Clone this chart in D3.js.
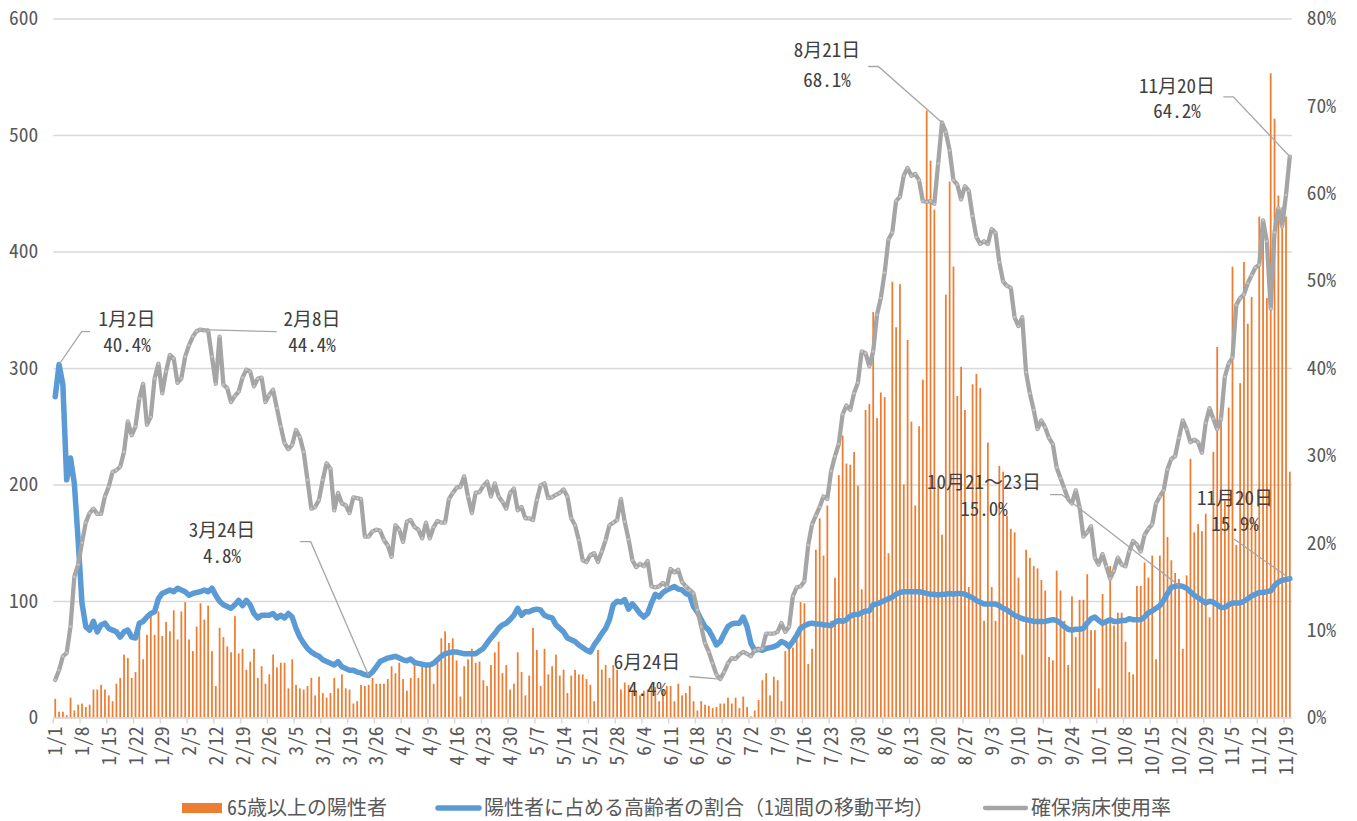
<!DOCTYPE html>
<html><head><meta charset="utf-8">
<script src="https://cdn.jsdelivr.net/npm/d3@7/dist/d3.min.js"></script>
<style>
body{margin:0;background:#fff}
svg{display:block}
</style>
</head><body>
<svg id="chart" width="1357" height="821"></svg>
<script>
// ---- data -------------------------------------------------------------
const startDate = new Date(2021, 0, 1);
const dayCount = 324; // 1/1 .. 11/20

// 65歳以上の陽性者 (人, left axis)
const seniorCases = [
16,5,5,2,17,6,11,12,9,11,24,24,28,24,19,14,29,34,54,51,34,39,77,50,71,91,71,91,70,82,
74,92,67,91,99,67,57,78,98,84,96,57,27,77,69,61,56,87,55,59,41,48,59,34,44,29,37,54,43,47,
47,25,50,28,25,24,27,34,19,35,21,17,21,34,25,37,25,24,12,14,28,27,28,34,29,29,29,33,44,38,
47,33,23,34,47,34,44,44,44,29,48,68,74,64,68,49,18,44,50,59,47,48,32,27,45,56,65,38,45,24,
29,56,39,19,36,77,58,27,59,37,44,54,36,41,21,36,41,37,37,33,28,14,58,41,45,34,45,41,24,30,
28,24,23,19,23,24,27,26,14,24,27,27,14,29,19,21,27,14,6,14,11,10,8,9,12,12,17,12,17,8,
18,9,1,6,15,32,38,19,35,32,14,57,61,60,67,99,98,46,59,144,171,139,182,83,120,208,242,218,217,228,
199,110,264,269,348,257,279,275,141,374,335,372,200,324,254,182,250,290,521,478,436,199,157,363,460,387,276,301,264,112,
286,295,283,83,236,112,83,216,211,173,162,159,120,54,144,137,130,128,118,109,52,49,126,109,83,45,104,69,101,101,
123,75,75,25,106,83,130,79,90,90,65,39,37,113,113,133,120,139,50,139,195,155,135,124,119,59,122,222,159,166,
160,175,86,228,318,266,186,266,387,148,287,391,338,361,168,430,428,360,553,514,448,438,430,211
];

// 陽性者に占める高齢者の割合（1週間の移動平均）(%, right axis)
const seniorShare = [
36.7,40.4,38.1,27.2,29.7,26.8,20.3,13.1,10.4,10.0,11.0,9.8,10.6,10.8,10.2,10.0,9.8,9.2,9.8,10.0,
9.2,9.1,10.8,11.0,11.5,11.9,12.1,13.6,14.2,14.4,14.6,14.4,14.8,14.6,14.4,14.0,14.2,14.3,14.4,14.6,
14.4,14.8,14.0,13.3,12.9,12.7,12.5,12.9,13.4,12.8,13.4,12.9,11.9,11.4,11.7,11.7,11.7,11.9,11.4,11.7,
11.4,11.9,11.5,10.2,9.2,8.5,7.9,7.5,7.2,7.0,6.6,6.4,6.2,6.0,6.4,5.8,5.6,5.4,5.4,5.2,
5.1,4.9,4.8,5.2,5.8,6.4,6.6,6.8,6.9,7.0,6.8,6.6,6.5,6.7,6.3,6.2,6.1,6.0,6.0,6.2,
6.6,7.0,7.3,7.4,7.5,7.5,7.4,7.3,7.3,7.3,7.3,7.6,7.9,8.5,9.1,9.6,10.2,10.6,10.8,11.2,
11.7,12.5,11.7,12.1,12.1,12.3,12.4,12.3,11.7,11.5,11.4,10.6,10.2,9.8,9.1,8.9,8.7,8.3,8.0,7.7,
7.5,8.3,8.9,9.6,10.2,11.2,12.9,13.3,13.2,13.5,12.4,13.0,12.5,11.9,11.5,11.9,13.1,14.1,13.8,14.3,
14.6,14.8,15.0,14.7,14.6,14.2,14.0,12.7,12.1,11.2,10.4,10.0,9.2,8.3,8.7,9.6,10.4,10.7,10.8,10.8,
11.5,10.4,8.5,7.7,7.8,7.7,7.9,8.0,8.1,8.3,8.7,8.5,8.1,8.7,9.4,10.2,10.5,10.7,10.8,10.7,
10.7,10.6,10.6,10.5,10.9,11.1,11.0,11.2,11.6,11.8,11.8,12.0,12.2,12.2,12.9,13.0,13.2,13.4,13.6,13.8,
14.1,14.3,14.4,14.4,14.4,14.4,14.4,14.3,14.2,14.1,14.1,14.0,14.1,14.1,14.2,14.1,14.2,14.2,14.1,13.9,
13.7,13.4,13.2,13.0,13.0,13.0,13.0,12.8,12.5,12.3,12.0,11.7,11.5,11.3,11.2,11.1,11.0,11.0,11.0,11.0,
11.1,11.2,11.1,10.8,10.4,10.1,10.0,10.1,10.1,10.2,10.8,11.3,11.5,11.1,10.8,11.0,11.2,11.0,11.0,11.1,
11.1,11.3,11.2,11.2,11.2,11.5,12.0,12.2,12.5,12.8,13.4,14.2,14.9,15.0,15.1,15.0,14.8,14.4,14.0,13.7,
13.4,13.1,13.3,13.2,12.9,12.6,12.6,12.9,13.1,13.1,13.1,13.3,13.6,13.9,14.1,14.3,14.3,14.4,14.5,15.1,
15.5,15.7,15.8,15.9
];

// 確保病床使用率 (%, right axis)
const bedUsage = [
4.3,5.4,7.0,7.4,10.4,16.1,17.5,20.0,22.3,23.4,23.9,23.3,23.3,25.3,26.4,28.1,28.3,28.7,30.4,33.9,
32.3,33.3,36.5,38.2,33.5,34.4,38.8,40.5,37.1,39.6,41.5,41.1,38.3,38.8,41.3,42.6,43.6,44.2,44.4,44.3,
44.3,41.3,38.2,43.6,38.1,37.7,36.1,36.8,37.3,38.9,39.8,39.6,37.9,38.8,38.9,36.1,36.9,37.5,35.4,33.3,
31.4,30.7,31.2,32.9,32.1,30.4,27.2,23.9,24.1,24.9,27.2,29.1,28.5,23.7,25.7,24.5,24.3,23.4,25.2,25.1,
25.0,20.7,20.7,21.3,21.5,21.4,20.3,19.7,18.4,22.0,21.5,20.1,22.4,22.6,21.8,21.5,20.5,22.3,20.5,21.8,
22.5,22.3,22.3,25.0,25.7,26.3,26.4,27.6,25.3,23.4,25.7,25.8,26.5,27.0,25.3,26.8,25.3,24.7,23.9,25.7,
26.2,23.7,24.1,22.8,22.8,22.6,24.9,26.6,26.8,25.1,25.2,25.5,25.7,26.1,25.3,22.8,22.0,20.3,18.0,17.8,
18.6,18.8,17.8,19.0,20.3,22.0,22.3,22.6,25.0,22.4,20.4,18.0,17.2,17.6,17.3,17.9,15.0,14.9,15.0,15.4,
15.0,17.0,16.6,16.9,15.5,15.0,14.6,14.2,12.3,10.4,8.5,7.5,6.2,4.9,4.4,5.2,6.2,6.8,6.7,7.2,
7.5,7.3,7.0,7.7,7.8,7.9,9.6,9.6,9.6,9.8,10.8,9.8,10.4,13.9,14.9,15.0,15.6,19.7,22.1,23.1,
24.1,25.3,25.0,28.2,29.9,31.3,34.7,35.7,35.2,37.1,38.3,41.9,41.7,40.2,41.9,46.1,48.0,50.9,54.7,55.5,
59.1,59.6,62.0,62.9,62.0,62.2,61.5,59.1,59.0,59.1,58.8,63.4,68.1,67.0,64.9,61.5,61.0,59.3,60.8,60.3,
57.4,55.0,54.2,54.5,54.2,55.9,55.5,52.1,49.9,49.4,49.2,45.8,44.8,45.8,39.5,37.1,35.2,33.0,34.0,33.2,
32.0,31.3,28.6,27.4,26.2,25.0,24.5,26.0,24.1,20.7,21.2,21.9,18.3,17.5,18.7,17.3,15.9,16.8,18.3,17.5,
17.3,19.0,20.2,19.8,19.0,20.9,21.6,22.1,24.5,25.3,26.0,28.4,29.6,29.9,32.0,34.0,33.0,31.5,31.8,31.5,
30.3,33.7,35.4,34.2,33.0,34.2,39.0,40.5,41.2,47.2,48.0,48.4,49.7,50.6,51.5,51.8,56.9,54.5,46.8,55.5,
58.3,56.2,59.8,64.2
];

const leftTicks = [0,100,200,300,400,500,600];
const rightTicks = [0,10,20,30,40,50,60,70,80];
const labelEvery = 7;

const seriesNames = ["65歳以上の陽性者", "陽性者に占める高齢者の割合（1週間の移動平均）", "確保病床使用率"];

// data labels
const callouts = [
  {day: 1,   series: "share", text: ["1月2日", "40.4%"]},
  {day: 38,  series: "bed",   text: ["2月8日", "44.4%"]},
  {day: 82,  series: "share", text: ["3月24日", "4.8%"]},
  {day: 174, series: "bed",   text: ["6月24日", "4.4%"]},
  {day: 232, series: "bed",   text: ["8月21日", "68.1%"]},
  {day: 294, series: "share", text: ["10月21～23日", "15.0%"]},
  {day: 323, series: "bed",   text: ["11月20日", "64.2%"]},
  {day: 323, series: "share", text: ["11月20日", "15.9%"]}
];

// ---- layout -------------------------------------------------------------
const plot = {left: 53.3, right: 1291.7, top: 18.5, bottom: 717.5};
const COL = {bar: "#ED7D31", blue: "#5B9BD5", gray: "#A5A5A5", grid: "#D9D9D9", tick: "#595959", label: "#404040"};
const MONO = "'Noto Sans Mono CJK JP','Noto Sans CJK JP',sans-serif";
const FS = "19.5px";

// label placement (text centre x, baselines, leader path points before the anchor)
const calloutLayout = [
  {cx: 127, b: [326, 352], path: [[90, 331.7], [81.7, 331.7]]},
  {cx: 312, b: [326, 352], path: [[276.7, 331.7]]},
  {cx: 222, b: [537, 563], path: [[300, 541.7], [310.7, 541.7]]},
  {cx: 647, b: [669, 696], path: [[689.3, 676.5]]},
  {cx: 827, b: [57, 87],   path: [[868.3, 66.5], [878.3, 66.5]]},
  {cx: 984, b: [489, 516], path: [[1050, 494.6], [1061.7, 494.6]]},
  {cx: 1177, b: [93, 118], path: [[1223.3, 96.8], [1233.3, 96.8]]},
  {cx: 1235, b: [505, 531], path: [[1234, 539]]}
];

const svg = d3.select("#chart");
const days = d3.range(dayCount);
const dates = days.map(i => d3.timeDay.offset(startDate, i));
const fmt = d3.timeFormat("%-m/%-d");

const x = d3.scaleBand().domain(days).range([plot.left, plot.right]).padding(0);
const bw = x.bandwidth();
const cx = i => x(i) + bw / 2;
const yL = d3.scaleLinear().domain([0, 600]).range([plot.bottom, plot.top]);
const yR = d3.scaleLinear().domain([0, 80]).range([plot.bottom, plot.top]);

// gridlines + left axis
const gL = svg.append("g").attr("transform", `translate(${plot.left},0)`)
  .call(d3.axisLeft(yL).tickValues(leftTicks).tickSize(-(plot.right - plot.left)).tickPadding(15).tickFormat(d3.format("d")));
gL.select(".domain").remove();
gL.selectAll(".tick line").attr("stroke", COL.grid).attr("stroke-width", 1.3);
gL.selectAll(".tick text").attr("fill", COL.tick).style("font-family", MONO).style("font-size", FS);

// right axis
const gR = svg.append("g").attr("transform", `translate(${plot.right},0)`)
  .call(d3.axisRight(yR).tickValues(rightTicks).tickSize(0).tickPadding(15).tickFormat(d => d + "%"));
gR.select(".domain").remove();
gR.selectAll(".tick text").attr("fill", COL.tick).style("font-family", MONO).style("font-size", FS);

// bars
svg.append("g").selectAll("rect").data(seniorCases).join("rect")
  .attr("x", (d, i) => x(i) + bw * 0.28)
  .attr("width", bw * 0.46)
  .attr("y", d => yL(d))
  .attr("height", d => yL(0) - yL(d))
  .attr("fill", COL.bar);

// bottom axis
const labelDays = days.filter(i => i % labelEvery === 0);
const gB = svg.append("g").attr("transform", `translate(0,${plot.bottom})`)
  .call(d3.axisBottom(x).tickValues(labelDays).tickSize(0).tickFormat(i => fmt(dates[i])));
gB.select(".domain").attr("stroke", COL.grid).attr("stroke-width", 1.5);
gB.selectAll(".tick text")
  .attr("transform", "rotate(-90)")
  .attr("text-anchor", "end")
  .attr("x", -9).attr("y", 0).attr("dy", "0.36em")
  .attr("fill", COL.tick)
  .style("font-family", MONO).style("font-size", FS);
gB.selectAll(".tickmark").data(labelDays).join("line")
  .attr("class", "tickmark")
  .attr("x1", i => x(i)).attr("x2", i => x(i))
  .attr("y1", 0).attr("y2", 6)
  .attr("stroke", COL.grid).attr("stroke-width", 1.5);

// lines
const line = d3.line().x((d, i) => cx(i)).y(d => yR(d));
svg.append("path").datum(seniorShare).attr("d", line)
  .attr("fill", "none").attr("stroke", COL.blue).attr("stroke-width", 5.5)
  .attr("stroke-linejoin", "round").attr("stroke-linecap", "round");

svg.append("path").datum(bedUsage).attr("d", line)
  .attr("fill", "none").attr("stroke", COL.gray).attr("stroke-width", 4.3)
  .attr("stroke-linejoin", "round").attr("stroke-linecap", "round");
svg.append("g").selectAll("circle").data(bedUsage).join("circle")
  .attr("cx", (d, i) => cx(i)).attr("cy", d => yR(d)).attr("r", 1.3)
  .attr("fill", "#C4C4C4");

// callouts
const seriesOf = {share: seniorShare, bed: bedUsage};
const gC = svg.append("g");
callouts.forEach((c, k) => {
  const L = calloutLayout[k];
  const anchor = [cx(c.day), yR(seriesOf[c.series][c.day])];
  gC.append("path").attr("d", d3.line()(L.path.concat([anchor])))
    .attr("fill", "none").attr("stroke", "#A6A6A6").attr("stroke-width", 1.3);
  c.text.forEach((t, j) => {
    gC.append("text").attr("x", L.cx).attr("y", L.b[j]).attr("text-anchor", "middle")
      .attr("fill", COL.label).style("font-family", MONO).style("font-size", "19px").text(t);
  });
});

// legend
const gLeg = svg.append("g").style("font-family", MONO).style("font-size", "20px").attr("fill", COL.tick);
gLeg.append("rect").attr("x", 182).attr("y", 803).attr("width", 40).attr("height", 10).attr("fill", COL.bar);
gLeg.append("text").attr("x", 227).attr("y", 815).text(seriesNames[0]);
gLeg.append("line").attr("x1", 438).attr("x2", 479).attr("y1", 808).attr("y2", 808)
  .attr("stroke", COL.blue).attr("stroke-width", 5.5).attr("stroke-linecap", "round");
gLeg.append("text").attr("x", 484).attr("y", 815).text(seriesNames[1]);
gLeg.append("line").attr("x1", 985).attr("x2", 1026).attr("y1", 808).attr("y2", 808)
  .attr("stroke", COL.gray).attr("stroke-width", 4.3).attr("stroke-linecap", "round");
gLeg.append("text").attr("x", 1031).attr("y", 815).text(seriesNames[2]);
</script>
</body></html>
